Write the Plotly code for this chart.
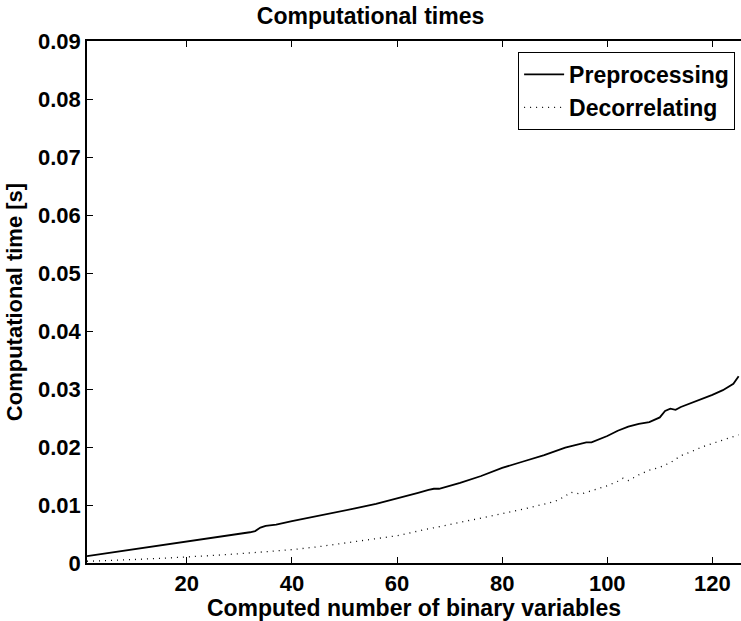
import plotly.graph_objects as go

# Preprocessing time [s] vs computed number of binary variables
prep_x = [1, 4, 8, 12, 16, 20, 24, 28, 32, 33, 34, 35, 37, 40, 44, 48, 52, 56, 60,
          64, 66, 67, 68, 70, 72, 76, 80, 84, 88, 92, 94, 96, 97, 100, 102, 104,
          106, 108, 110, 111, 112, 113, 114, 116, 118, 119, 120, 122, 124, 125]
prep_y = [0.0012, 0.0016, 0.0021, 0.0026, 0.0031, 0.0037, 0.0042, 0.0048, 0.0053,
          0.0055, 0.0061, 0.0064, 0.0066, 0.0072, 0.0079, 0.0086, 0.0094, 0.0102,
          0.0111, 0.0121, 0.0126, 0.0128, 0.0128, 0.0133, 0.0138, 0.0150, 0.0164,
          0.0175, 0.0186, 0.0199, 0.0203, 0.0208, 0.0208, 0.0219, 0.0228, 0.0235,
          0.0240, 0.0243, 0.0251, 0.0262, 0.0266, 0.0264, 0.0269, 0.0276, 0.0283,
          0.0286, 0.0290, 0.0298, 0.0309, 0.0322]

# Decorrelating time [s]
dec_x = [1, 5, 10, 15, 20, 25, 30, 35, 40, 45, 50, 55, 60, 65, 70, 75, 80, 85, 90,
         92, 93, 95, 97, 100, 102, 103, 104, 106, 108, 110, 112, 114, 116, 118,
         120, 122, 124, 125]
dec_y = [0.0003, 0.0004, 0.0006, 0.0008, 0.0010, 0.0013, 0.0016, 0.0019, 0.0023,
         0.0028, 0.0034, 0.0040, 0.0047, 0.0057, 0.0066, 0.0075, 0.0085, 0.0095,
         0.0106, 0.0115, 0.0122, 0.0119, 0.0125, 0.0133, 0.0141, 0.0146, 0.0142,
         0.0152, 0.0160, 0.0165, 0.0173, 0.0185, 0.0192, 0.0200, 0.0206, 0.0212,
         0.0218, 0.0221]

x_ticks = [20, 40, 60, 80, 100, 120]
y_ticks = [0, 0.01, 0.02, 0.03, 0.04, 0.05, 0.06, 0.07, 0.08, 0.09]
y_tick_text = ["0", "0.01", "0.02", "0.03", "0.04", "0.05", "0.06", "0.07", "0.08", "0.09"]

FONT = "Liberation Sans, Arial, Helvetica, sans-serif"

fig = go.Figure()
fig.add_trace(go.Scatter(x=prep_x, y=prep_y, mode="lines", name="Preprocessing",
                         line=dict(color="black", width=1.8)))
fig.add_trace(go.Scatter(x=dec_x, y=dec_y, mode="lines", name="Decorrelating",
                         line=dict(color="black", width=1.3, dash="1px,5px")))

fig.update_layout(
    width=741, height=621,
    margin=dict(l=87, r=0, t=41, b=58),
    paper_bgcolor="white", plot_bgcolor="white",
    font=dict(family=FONT, size=22, color="black"),
    title=dict(text="<b>Computational times</b>", x=0.5, xanchor="center",
               y=1 - 16 / 621, yanchor="middle", font=dict(size=23)),
    showlegend=True,
    legend=dict(x=0.991, xanchor="right", y=0.979, yanchor="top",
                bgcolor="white", bordercolor="black", borderwidth=1,
                font=dict(size=23, family=FONT), tracegroupgap=0,
                itemwidth=40),
)

fig.update_xaxes(
    range=[1, 125.45], tickvals=x_ticks, ticktext=[f"<b>{v}</b>" for v in x_ticks],
    ticks="inside", ticklen=6, tickwidth=1, tickcolor="black",
    showline=True, linecolor="black", linewidth=1.5, mirror="ticks",
    showgrid=False, zeroline=False,
    title=dict(text="<b>Computed number of binary variables</b>",
               font=dict(size=23), standoff=0),
)
fig.update_yaxes(
    range=[0, 0.09], tickvals=y_ticks, ticktext=[f"<b>{t}</b>" for t in y_tick_text],
    ticks="inside", ticklen=6, tickwidth=1, tickcolor="black",
    showline=True, linecolor="black", linewidth=1.5, mirror=False,
    showgrid=False, zeroline=False,
    title=dict(text="<b>Computational time [s]</b>", font=dict(size=22), standoff=9),
)

fig.for_each_trace(lambda t: t.update(name=f"<b>{t.name}</b>"))

fig.write_html("out.html")
